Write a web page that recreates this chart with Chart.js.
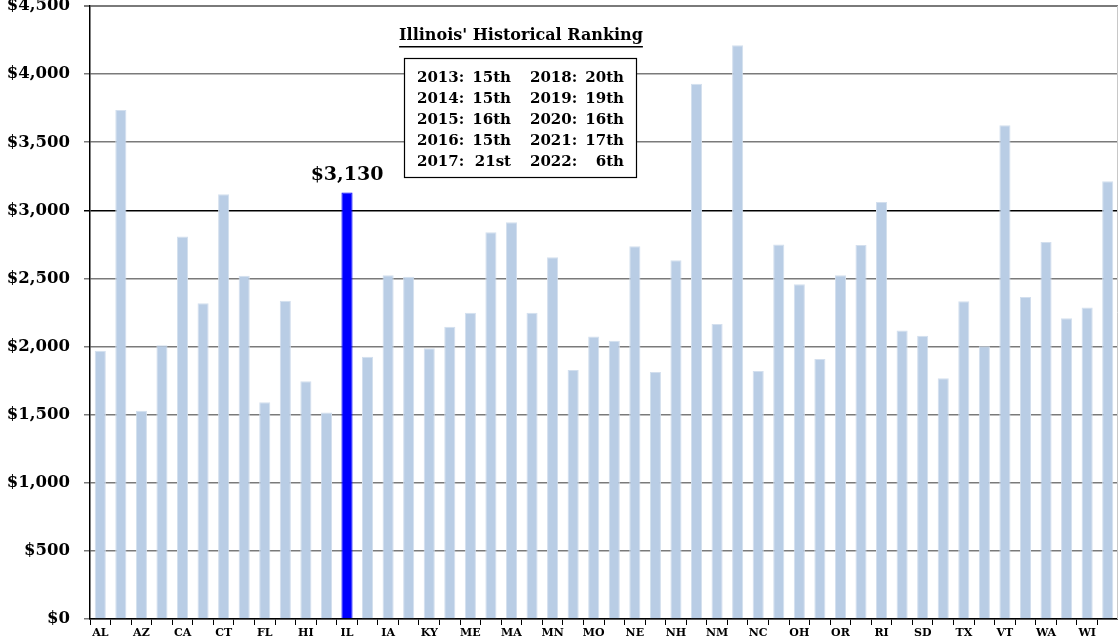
<!DOCTYPE html>
<html>
<head>
<meta charset="utf-8">
<script src="https://cdn.jsdelivr.net/npm/chart.js@4/dist/chart.umd.min.js"></script>
<style>
  html, body { margin: 0; padding: 0; background: #fff; }
  #wrap { width: 1118px; height: 644px; position: relative; }
</style>
</head>
<body>
<div id="wrap"><canvas id="stateChart"></canvas></div>
<script>
const states = ['AL','AK','AZ','AR','CA','CO','CT','DE','FL','GA','HI','ID','IL','IN','IA','KS','KY','LA','ME','MD',
    'MA','MI','MN','MS','MO','MT','NE','NV','NH','NJ','NM','NY','NC','ND','OH','OK','OR','PA','RI','SC',
    'SD','TN','TX','UT','VT','VA','WA','WV','WI','WY'];
const amounts = [1970,3737,1529,2009,2807,2317,3118,2520,1591,2337,1745,1515,3130,1926,2523,2513,1987,2146,2249,2839,
    2912,2249,2655,1828,2073,2043,2736,1813,2633,3930,2166,4211,1821,2750,2457,1909,2523,2746,3061,2117,
    2080,1767,2332,2002,3624,2364,2768,2207,2286,3213];
const highlightState = 'IL';
const highlightLabel = '$3,130';
const yTicks = [0,500,1000,1500,2000,2500,3000,3500,4000,4500];
const rankYearsLeft = ['2013','2014','2015','2016','2017'];
const rankLeft = ['15th','15th','16th','15th','21st'];
const rankYearsRight = ['2018','2019','2020','2021','2022'];
const rankRight = ['20th','19th','16th','17th','6th'];

const serif = "'DejaVu Serif', 'Liberation Serif', serif";

const barColors = states.map(s => s === highlightState ? '#0000FF' : '#B9CDE5');
const borderColors = states.map(s => s === highlightState ? '#0000FF' : '#D3DFEE');

// draws the IL value label and the ranking box
const notesPlugin = {
    id: 'notes',
    afterDraw(chart) {
        const ctx = chart.ctx;
        const x = chart.scales.x, y = chart.scales.y;
        const idx = states.indexOf(highlightState);
        ctx.save();
        ctx.fillStyle = '#000';
        ctx.textAlign = 'center';
        ctx.textBaseline = 'bottom';
        ctx.font = "bold 19px " + serif;
        ctx.fillText(highlightLabel, x.getPixelForValue(idx), y.getPixelForValue(amounts[idx]) - 8);

        // ranking title
        ctx.font = "bold 16px " + serif;
        ctx.textBaseline = 'middle';
        const title = "Illinois' Historical Ranking";
        ctx.fillText(title, 521, 36);
        const tw = ctx.measureText(title).width;
        ctx.fillRect(521 - tw / 2, 46, tw, 1.5);

        // ranking box
        ctx.fillStyle = '#fff';
        ctx.fillRect(404, 58, 233, 120);
        ctx.strokeStyle = '#000';
        ctx.lineWidth = 1.2;
        ctx.strokeRect(404.5, 58.5, 232, 119);
        ctx.fillStyle = '#000';
        ctx.font = "bold 15px " + serif;
        for (let i = 0; i < rankYearsLeft.length; i++) {
            const ly = 78 + i * 21;
            ctx.textAlign = 'left';
            ctx.fillText(rankYearsLeft[i] + ':', 417, ly);
            ctx.fillText(rankYearsRight[i] + ':', 530, ly);
            ctx.textAlign = 'right';
            ctx.fillText(rankLeft[i], 511, ly);
            ctx.fillText(rankRight[i], 624, ly);
        }

        // light right border
        ctx.strokeStyle = '#c8c8c8';
        ctx.lineWidth = 1;
        ctx.beginPath();
        ctx.moveTo(chart.chartArea.right - 0.5, chart.chartArea.top);
        ctx.lineTo(chart.chartArea.right - 0.5, chart.chartArea.bottom);
        ctx.stroke();
        ctx.restore();
    }
};

new Chart(document.getElementById('stateChart'), {
    type: 'bar',
    data: {
        labels: states,
        datasets: [{
            data: amounts,
            backgroundColor: barColors,
            borderColor: borderColors,
            borderWidth: 1,
            barPercentage: 0.54,
            categoryPercentage: 1.0
        }]
    },
    options: {
        responsive: true,
        maintainAspectRatio: false,
        animation: false,
        layout: { padding: { top: 6, right: 0, left: 0, bottom: 0 } },
        plugins: {
            legend: { display: false },
            tooltip: { enabled: false }
        },
        scales: {
            x: {
                grid: {
                    offset: true,
                    drawOnChartArea: false,
                    drawTicks: true,
                    tickLength: 6,
                    color: '#000'
                },
                border: { color: '#000', width: 1.5 },
                ticks: {
                    autoSkip: false,
                    maxRotation: 0,
                    padding: 2,
                    color: '#000',
                    font: { family: serif, weight: 'bold', size: 11 },
                    callback: (v, i) => i % 2 === 0 ? states[i] : ''
                },
                afterFit(scale) {
                    scale.height = 25;
                    scale.paddingLeft = 0;
                    scale.paddingRight = 0;
                }
            },
            y: {
                min: 0,
                max: 4500,
                afterBuildTicks(scale) { scale.ticks = yTicks.map(v => ({ value: v })); },
                grid: {
                    color: ctx => ctx.tick && ctx.tick.value === 3000 ? '#000' : '#7a7a7a',
                    lineWidth: ctx => ctx.tick && ctx.tick.value === 4500 ? 2 : 1.5,
                    tickLength: 6
                },
                border: { color: '#000', width: 1.5 },
                ticks: {
                    padding: 14,
                    color: '#000',
                    font: { family: serif, weight: 'bold', size: 16.5 },
                    callback: v => '$' + v.toLocaleString('en-US')
                },
                afterFit(scale) {
                    scale.width = 90;
                    scale.paddingTop = 0;
                    scale.paddingBottom = 0;
                }
            }
        }
    },
    plugins: [notesPlugin]
});
</script>
</body>
</html>
